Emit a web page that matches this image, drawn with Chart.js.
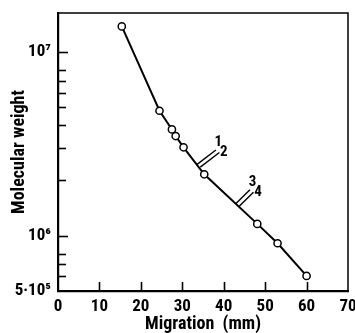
<!DOCTYPE html>
<html><head><meta charset="utf-8">
<script src="https://cdn.jsdelivr.net/npm/chart.js@4.4.0/dist/chart.umd.min.js"></script>
<style>html,body{margin:0;padding:0;background:#fff}#wrap{width:355px;height:333px}</style>
</head><body><div id="wrap"><canvas id="c" width="355" height="333"></canvas></div>
<script>
const MIGRATION_MM = [15.4, 24.5, 27.5, 28.4, 30.3, 35.3, 48.1, 53.0, 60.0];
const MOLECULAR_WEIGHT = [1.38e7, 4.79e6, 3.79e6, 3.49e6, 3.03e6, 2.16e6, 1.16e6, 9.1e5, 6.04e5];
const X_TICKS = [0, 10, 20, 30, 40, 50, 60, 70];
const Y_TICKS = [5e5, 6e5, 7e5, 8e5, 1e6, 2e6, 3e6, 4e6, 5e6, 6e6, 7e6, 8e6, 1e7];
const Y_TICK_LABELS = {500000: '5·10⁵', 1000000: '10⁶', 10000000: '10⁷'};
const MARK_POSITIONS = [33.5, 42.9];
const MARK_LABELS = [['1', '2'], ['3', '4']];

const FONT = "'Roboto Condensed', 'DejaVu Sans Condensed', 'Liberation Sans', sans-serif";

function curveY(xv) {
  for (let i = 0; i < MIGRATION_MM.length - 1; i++) {
    const x0 = MIGRATION_MM[i], x1 = MIGRATION_MM[i + 1];
    if (xv >= x0 && xv <= x1) {
      const t = (xv - x0) / (x1 - x0);
      const l0 = Math.log10(MOLECULAR_WEIGHT[i]), l1 = Math.log10(MOLECULAR_WEIGHT[i + 1]);
      return Math.pow(10, l0 + t * (l1 - l0));
    }
  }
  return MOLECULAR_WEIGHT[0];
}

const framePlugin = {
  id: 'frame',
  afterDraw(chart) {
    const ctx = chart.ctx, a = chart.chartArea;
    const xs = chart.scales.x, ys = chart.scales.y;
    ctx.save();
    ctx.strokeStyle = '#000';
    ctx.lineCap = 'butt';
    ctx.lineWidth = 1.5;
    ctx.beginPath();
    ctx.moveTo(a.left, a.top); ctx.lineTo(a.right, a.top); ctx.lineTo(a.right, a.bottom);
    ctx.stroke();
    ctx.lineWidth = 1.6;
    X_TICKS.forEach(v => {
      if (v === X_TICKS[0] || v === X_TICKS[X_TICKS.length - 1]) return;
      const px = Math.round(xs.getPixelForValue(v)) + 0.5;
      ctx.beginPath(); ctx.moveTo(px, a.bottom); ctx.lineTo(px, a.bottom - 9); ctx.stroke();
    });
    Y_TICKS.forEach(v => {
      if (v === Y_TICKS[0]) return;
      const py = Math.round(ys.getPixelForValue(v)) + 0.5;
      const len = Y_TICK_LABELS[v] ? 10 : 8;
      ctx.beginPath(); ctx.moveTo(a.left, py); ctx.lineTo(a.left + len, py); ctx.stroke();
    });
    ctx.lineWidth = 1.4;
    ctx.fillStyle = '#000';
    ctx.font = "bold 15px " + FONT;
    ctx.textAlign = 'center';
    ctx.textBaseline = 'middle';
    MARK_POSITIONS.forEach((xv, i) => {
      const px = xs.getPixelForValue(xv), py = ys.getPixelForValue(curveY(xv));
      const ang = i === 0 ? 0.65 : 0.78;
      const dx = Math.cos(ang), dy = -Math.sin(ang);
      const L = i === 0 ? 24 : 20;
      ctx.beginPath(); ctx.moveTo(px, py); ctx.lineTo(px + dx * L, py + dy * L); ctx.stroke();
      const qx = px + 3.5, qy = py + 2.5;
      ctx.beginPath(); ctx.moveTo(qx, qy); ctx.lineTo(qx + dx * L, qy + dy * L); ctx.stroke();
      const ex = px + dx * L, ey = py + dy * L;
      ctx.fillText(MARK_LABELS[i][0], ex + 2.5, ey - 7.5);
      ctx.fillText(MARK_LABELS[i][1], ex + 8, ey + 2.5);
    });
    ctx.restore();
  }
};

new Chart(document.getElementById('c'), {
  type: 'scatter',
  data: {
    datasets: [{
      data: MIGRATION_MM.map((x, i) => ({x: x, y: MOLECULAR_WEIGHT[i]})),
      showLine: true,
      borderColor: '#000',
      borderWidth: 2,
      tension: 0,
      pointRadius: 3.6,
      pointBorderWidth: 1.5,
      pointBackgroundColor: '#fff',
      pointBorderColor: '#000'
    }]
  },
  options: {
    responsive: false,
    devicePixelRatio: 1,
    animation: false,
    layout: {padding: {left: 0, right: 7, top: 13, bottom: 0}},
    plugins: {legend: {display: false}, tooltip: {enabled: false}},
    scales: {
      x: {
        type: 'linear', min: 0, max: 70,
        grid: {display: true, drawOnChartArea: false, drawTicks: false},
        border: {display: true, width: 2.2, color: '#000'},
        afterBuildTicks: s => { s.ticks = X_TICKS.map(v => ({value: v})); },
        ticks: {color: '#000', padding: 6, autoSkip: false, maxRotation: 0,
                font: {family: FONT, size: 17, weight: 'bold'}},
        title: {display: true, text: 'Migration  (mm)', color: '#000',
                font: {family: FONT, size: 18, weight: 'bold', lineHeight: 1}, padding: {top: 0, bottom: 0}},
        afterFit: s => { s.height = 42; s.paddingLeft = 0; s.paddingRight = 0; }
      },
      y: {
        type: 'logarithmic', min: 5e5, max: 1.632e7,
        grid: {display: true, drawOnChartArea: false, drawTicks: false},
        border: {display: true, width: 2.2, color: '#000'},
        afterBuildTicks: s => { s.ticks = Y_TICKS.map(v => ({value: v})); },
        ticks: {color: '#000', padding: 7, autoSkip: false,
                callback: v => Y_TICK_LABELS[v] || '',
                font: {family: FONT, size: 17, weight: 'bold'}},
        title: {display: true, text: 'Molecular weight', color: '#000',
                font: {family: FONT, size: 18, weight: 'bold', lineHeight: 1}, padding: {top: 10, bottom: 0}},
        afterFit: s => { s.width = 58; s.paddingTop = 0; s.paddingBottom = 0; }
      }
    }
  },
  plugins: [framePlugin]
});
</script></body></html>
